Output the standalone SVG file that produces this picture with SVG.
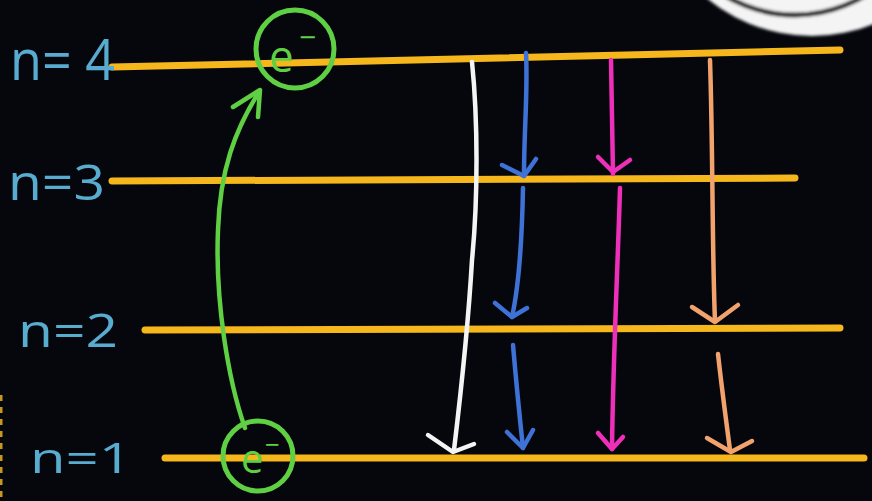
<svg xmlns="http://www.w3.org/2000/svg" width="872" height="501" viewBox="0 0 872 501">
<defs>
<style>
.lvl{stroke:#f6b71c;stroke-width:7;stroke-linecap:round;fill:none}
.lbl{font-family:"Open Sans","Liberation Sans",sans-serif;fill:#58acd0}
.el{fill:none;stroke:#5fcf44;stroke-width:5}
.et{font-family:"Open Sans","Liberation Sans",sans-serif;fill:#5fcf44}
.ar{fill:none;stroke-width:4.5;stroke-linecap:round;stroke-linejoin:round}
.w{stroke:#f4f4f4}.b{stroke:#3f72d6}.p{stroke:#ee2fb9}.o{stroke:#f2a26c}.g{stroke:#5fcf44}
</style>
<filter id="soft"><feGaussianBlur stdDeviation="1.5"/></filter>
</defs>
<rect width="872" height="501" fill="#05070c"/>
<g id="badge" filter="url(#soft)">
<circle cx="812" cy="-129" r="165" fill="#f4f4f4"/>
<circle cx="795" cy="-120" r="135" fill="none" stroke="#1c1c1c" stroke-width="5"/>
</g>
<line x1="1" y1="395" x2="1" y2="501" stroke="#c9961e" stroke-width="3" stroke-dasharray="6 6"/>
<g id="level4"><line class="lvl" x1="112" y1="67" x2="840" y2="50"/><text class="lbl" x="10" y="80" font-size="56" textLength="105" lengthAdjust="spacingAndGlyphs">n= 4</text></g>
<g id="level3"><line class="lvl" x1="112" y1="181" x2="795" y2="178"/><text class="lbl" x="8" y="200" font-size="50" textLength="97" lengthAdjust="spacingAndGlyphs">n=3</text></g>
<g id="level2"><line class="lvl" x1="145" y1="330" x2="840" y2="328"/><text class="lbl" x="18" y="347" font-size="46" textLength="100" lengthAdjust="spacingAndGlyphs">n=2</text></g>
<g id="level1"><line class="lvl" x1="165" y1="458" x2="864" y2="458"/><text class="lbl" x="30" y="473" font-size="42" textLength="102" lengthAdjust="spacingAndGlyphs">n=1</text></g>
<g id="electron4"><circle class="el" cx="295" cy="49" r="39"/><text class="et" x="269" y="72" font-size="44">e<tspan x="299" y="48" font-size="30">−</tspan></text></g>
<g id="electron1"><circle class="el" cx="258" cy="456" r="35"/><text class="et" x="241" y="473" font-size="40">e<tspan x="265" y="454" font-size="26">−</tspan></text></g>
<g id="connectors">
<path class="ar g" d="M245,428 C228,380 215,300 218,230 C220,170 235,130 259,92"/>
<path class="ar g" d="M233,107 L260,90 L258,117"/>
<path class="ar w" d="M472,62 C478,120 478,200 472,260 C468,330 460,400 454,450"/>
<path class="ar w" d="M428,435 L453,452 L474,444"/>
<path class="ar b" d="M526,53 C528,90 524,130 524,176"/>
<path class="ar b" d="M502,165 L524,176 L536,159"/>
<path class="ar b" d="M523,188 C522,240 518,290 512,317"/>
<path class="ar b" d="M495,303 L512,317 L527,308"/>
<path class="ar b" d="M513,345 C516,380 520,420 523,448"/>
<path class="ar b" d="M507,432 L523,448 L533,430"/>
<path class="ar p" d="M611,60 L613,174"/>
<path class="ar p" d="M598,157 L613,172 L630,160"/>
<path class="ar p" d="M620,188 C618,260 613,360 612,449"/>
<path class="ar p" d="M598,433 L612,449 L623,437"/>
<path class="ar o" d="M710,60 C713,150 712,250 715,321"/>
<path class="ar o" d="M692,307 L715,322 L738,305"/>
<path class="ar o" d="M718,354 C722,390 726,420 730,450"/>
<path class="ar o" d="M707,438 L731,452 L752,441"/>
</g>
</svg>
